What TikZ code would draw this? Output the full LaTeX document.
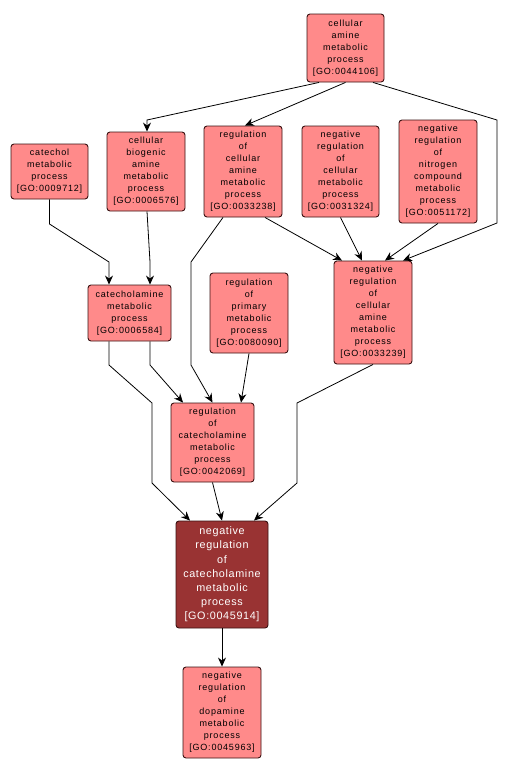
\documentclass[tikz,border=0pt]{standalone}
\usepackage{fontspec}
\usetikzlibrary{arrows.meta}
\newfontfamily\gofont[LetterSpace=9]{Liberation Sans}
\newfontfamily\gofontb[LetterSpace=6]{Liberation Sans}
\definecolor{termfill}{HTML}{FF8A8A}
\definecolor{termdark}{HTML}{993333}
\definecolor{termline}{HTML}{3A1212}
\begin{document}
\begin{tikzpicture}[x=1pt, y=-1pt,
	term/.style={draw=termline, line width=0.9pt, fill=termfill, rounded corners=3pt, align=center, inner sep=0pt,
		font=\gofont\fontsize{9}{12}\selectfont, execute at begin node={\rule{0pt}{11.5pt}}},
	focus/.style={term, fill=termdark, text=white, font=\gofontb\fontsize{10.8}{14.2}\selectfont},
	edge/.style={draw, line width=0.8pt, -{Stealth[length=9pt, width=8pt, inset=3pt]}}]
	\useasboundingbox (0,0) rectangle (507,774);
	% terms
	\node[term, minimum width=77pt, minimum height=68pt] (A) at (345.5,48) {cellular\\amine\\metabolic\\process\\{[GO:0044106]}};
	\node[term, minimum width=77pt, minimum height=55pt] (B) at (49.5,171.5) {catechol\\metabolic\\process\\{[GO:0009712]}};
	\node[term, minimum width=78pt, minimum height=79pt] (C) at (146,171.5) {cellular\\biogenic\\amine\\metabolic\\process\\{[GO:0006576]}};
	\node[term, minimum width=78pt, minimum height=91pt] (D) at (243,171.5) {regulation\\of\\cellular\\amine\\metabolic\\process\\{[GO:0033238]}};
	\node[term, minimum width=77pt, minimum height=91pt] (E) at (340.5,171.5) {negative\\regulation\\of\\cellular\\metabolic\\process\\{[GO:0031324]}};
	\node[term, minimum width=78pt, minimum height=103pt] (F) at (438,171.5) {negative\\regulation\\of\\nitrogen\\compound\\metabolic\\process\\{[GO:0051172]}};
	\node[term, minimum width=83pt, minimum height=56pt] (G) at (129.5,313) {catecholamine\\metabolic\\process\\{[GO:0006584]}};
	\node[term, minimum width=78pt, minimum height=80pt] (H) at (249,313) {regulation\\of\\primary\\metabolic\\process\\{[GO:0080090]}};
	\node[term, minimum width=78pt, minimum height=103pt] (I) at (373,312.5) {negative\\regulation\\of\\cellular\\amine\\metabolic\\process\\{[GO:0033239]}};
	\node[term, minimum width=83pt, minimum height=79pt] (J) at (212.5,442.5) {regulation\\of\\catecholamine\\metabolic\\process\\{[GO:0042069]}};
	\node[focus, minimum width=92pt, minimum height=107pt] (K) at (222,574.5) {negative\\regulation\\of\\catecholamine\\metabolic\\process\\{[GO:0045914]}};
	\node[term, minimum width=78pt, minimum height=91pt] (L) at (222,712.5) {negative\\regulation\\of\\dopamine\\metabolic\\process\\{[GO:0045963]}};
	% links
	\draw[edge] ([xshift=-26.5pt]A.south) -- (147,120) -- ([xshift=1pt]C.north);
	\draw[edge] (A.south) -- ([xshift=2pt]D.north);
	\draw[edge] ([xshift=27.5pt]A.south) -- (497,120) -- (497,223) -- ([xshift=30pt]I.north);
	\draw[edge] (B.south) -- (49.5,224) -- (109,262) -- ([xshift=-20.5pt]G.north);
	\draw[edge] ([xshift=1pt]C.south) -- (150,262) -- ([xshift=20.5pt]G.north);
	\draw[edge] ([xshift=-20pt]D.south) -- (191,262) -- (191,365) -- (J.north);
	\draw[edge] ([xshift=22pt]D.south) -- ([xshift=-31pt]I.north);
	\draw[edge] (E.south) -- ([xshift=-11pt]I.north);
	\draw[edge] (F.south) -- ([xshift=12pt]I.north);
	\draw[edge] ([xshift=20.5pt]G.south) -- (150,365) -- ([xshift=-29.5pt]J.north);
	\draw[edge] ([xshift=-20.5pt]G.south) -- (109,365) -- (152,403) -- (152,483) -- ([xshift=-32pt]K.north);
	\draw[edge] (H.south) -- ([xshift=28.5pt]J.north);
	\draw[edge] (I.south) -- (297,403) -- (297,483) -- ([xshift=32pt]K.north);
	\draw[edge] (J.south) -- (K.north);
	\draw[edge] (K.south) -- (L.north);
\end{tikzpicture}
\end{document}
